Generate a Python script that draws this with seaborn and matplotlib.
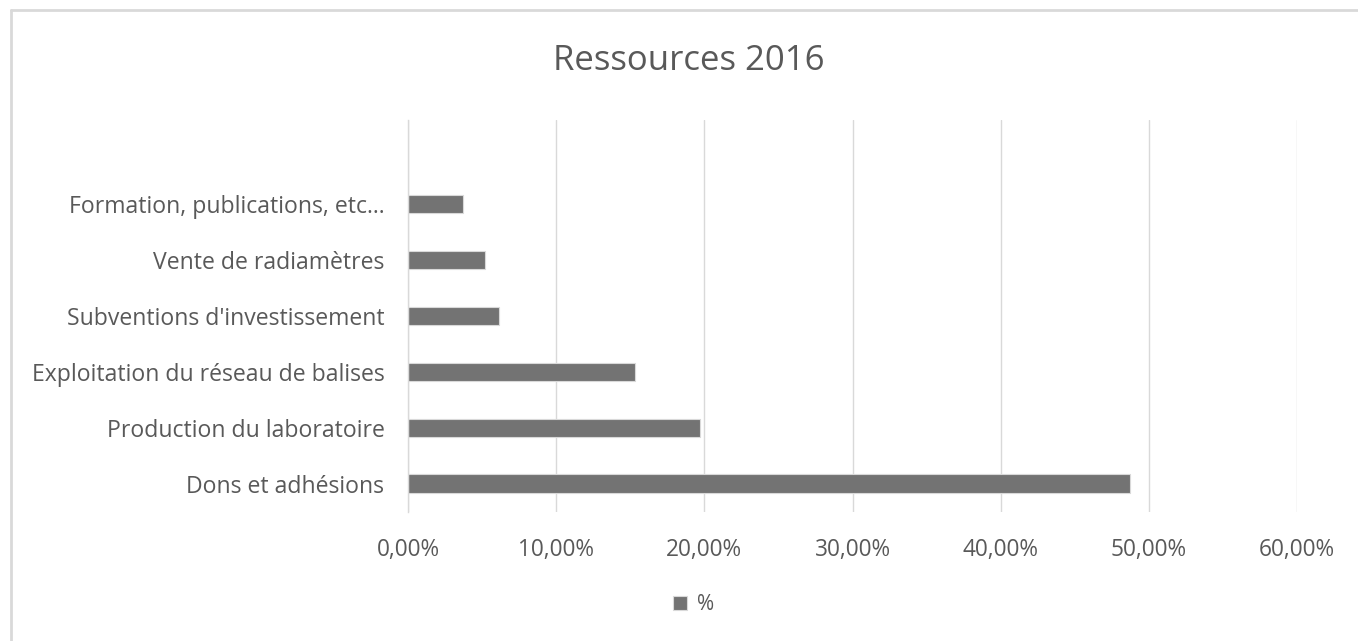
import matplotlib
matplotlib.use("Agg")
import matplotlib.pyplot as plt
import seaborn as sns
import pandas as pd
import numpy as np
from matplotlib.ticker import FuncFormatter, FixedLocator
from matplotlib.lines import Line2D

categories = [
    "Formation, publications, etc...",
    "Vente de radiamètres",
    "Subventions d'investissement",
    "Exploitation du réseau de balises",
    "Production du laboratoire",
    "Dons et adhésions",
]
values = [3.73, 5.17, 6.13, 15.3, 19.68, 48.7]
series_name = "%"
title = "Ressources 2016"

sns.set_theme(style="white")
plt.rcParams['font.family'] = ['Open Sans', 'DejaVu Sans']

W, H = 1358, 641
fig = plt.figure(figsize=(W / 100, H / 100), dpi=100)
ax = fig.add_axes([408 / W, 1 - 511.7 / H, (1297 - 408) / W, (511.7 - 120) / H])

df = pd.DataFrame({"cat": categories, "val": values})
sns.barplot(data=df, y="cat", x="val", order=categories, orient="h",
            color="#737373", saturation=1, width=0.33, ax=ax,
            edgecolor="#d9d9d9", linewidth=0.8, label=series_name)

grey_txt = "#595959"
grid_c = "#d9d9d9"
ax.set_xlim(0, 60)
ax.set_ylim(5.5, -1.5)
ax.set_xticks(np.arange(0, 61, 10))
ax.xaxis.set_major_formatter(FuncFormatter(lambda v, p: f"{v:.2f}".replace(".", ",") + "%"))
ax.grid(axis="x", color=grid_c, linewidth=1)
ax.set_axisbelow(True)
ax.set_xlabel("")
ax.set_ylabel("")
for s in ["top", "right", "bottom"]:
    ax.spines[s].set_visible(False)
ax.spines["left"].set_color(grid_c)
ax.spines["left"].set_linewidth(1)
ax.tick_params(axis="x", length=0, labelsize=16.3, labelcolor=grey_txt, pad=19)
ax.tick_params(axis="y", which="major", length=0, labelsize=16.6, labelcolor=grey_txt, pad=17)
ax.yaxis.set_minor_locator(FixedLocator(np.arange(-1.5, 5.6, 1.0)))
ax.tick_params(axis="y", which="minor", length=7, color=grid_c, width=1)

fig.text(689 / W, 1 - 61 / H, title, ha="center", va="center", fontsize=25, color=grey_txt)

leg = ax.legend(loc="center", bbox_to_anchor=(694 / W, 1 - 605 / H), bbox_transform=fig.transFigure,
                frameon=False, fontsize=15, handlelength=0.65, handleheight=0.65,
                handletextpad=0.5, labelcolor=grey_txt)

fig.add_artist(Line2D([11 / W, 1], [1 - 10 / H, 1 - 10 / H], transform=fig.transFigure,
                      color=grid_c, linewidth=2))
fig.add_artist(Line2D([11 / W, 11 / W], [0, 1 - 10 / H], transform=fig.transFigure,
                      color=grid_c, linewidth=2))

fig.savefig("out.png", dpi=100)
